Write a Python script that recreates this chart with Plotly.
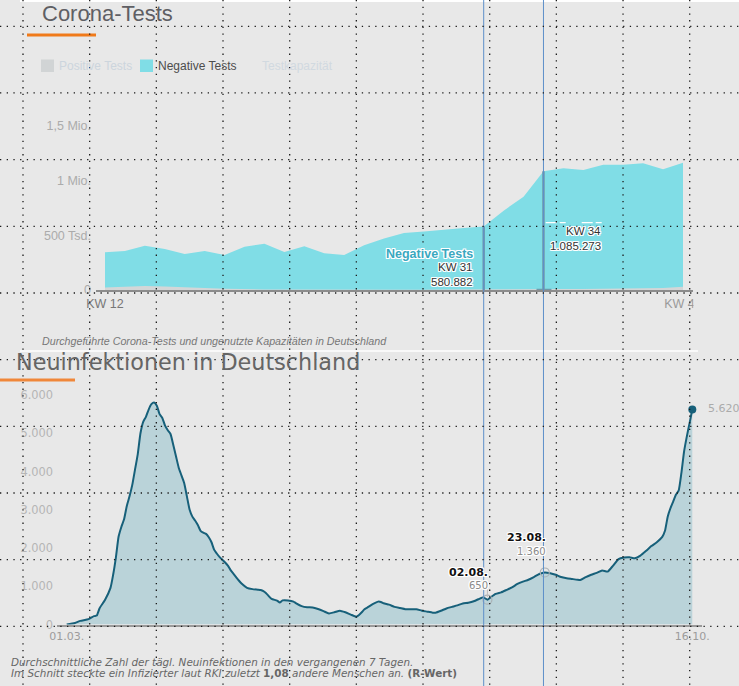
import plotly.graph_objects as go
import pandas as pd

# ---------------- data: top chart (weekly tests) ----------------
kw = list(range(12, 42))
negative_tests = [345000, 356000, 405000, 375000, 329000, 356000, 320000, 396000,
                  423000, 347000, 399000, 335000, 320000, 410000, 470000, 520000,
                  535000, 553000, 566000, 580882, 725000, 853000, 1085273, 1112000,
                  1097000, 1146000, 1146000, 1158000, 1103000, 1164000]
positive_tests = [23800, 32300, 36900, 31400, 22100, 17300, 12200, 7200, 5700, 4300,
                  3200, 2800, 2800, 5300, 3700, 3000, 3200, 3600, 5400, 6200, 7600,
                  8800, 9200, 8300, 8200, 9600, 11300, 14600, 18800, 29400]
top_x_ticks = [12, 41]
top_x_ticktext = ["KW 12", "KW 41"]
top_y_ticks = [0, 500000, 1000000, 1500000]
top_y_ticktext = ["0", "500 Tsd.", "1 Mio.", "1,5 Mio."]
highlight_kw = [31, 34]

# ---------------- data: bottom chart (7-day average new infections) ----------------
start_date = "2020-03-01"
day_offset = [0, 3, 5, 8, 10, 11, 12, 14, 16, 17, 18, 19, 20, 21, 22, 23, 24, 25, 26, 27,
              28, 29, 30, 31, 32, 33, 34, 35, 36, 37, 38, 39, 40, 41, 42, 43, 44, 45, 46,
              47, 48, 49, 50, 51, 52, 53, 54, 55, 56, 57, 58, 59, 60, 61, 62, 63, 64, 66,
              68, 70, 71, 72, 73, 74, 75, 77, 78, 79, 81, 83, 84, 86, 88, 90, 92, 94, 96,
              98, 100, 102, 104, 106, 107, 108, 109, 110, 112, 114, 115, 116, 118, 120,
              122, 124, 126, 128, 130, 132, 134, 135, 137, 139, 141, 143, 145, 147, 149,
              151, 152, 153, 154, 155, 157, 159, 161, 163, 165, 167, 169, 171, 173, 175,
              177, 179, 181, 183, 185, 187, 188, 190, 192, 194, 196, 198, 200, 202, 204,
              206, 208, 210, 212, 214, 216, 218, 219, 220, 221, 222, 223, 224, 225, 226,
              227, 228, 229]
new_infections = [0, 40, 95, 140, 220, 235, 420, 640, 950, 1300, 1750, 2300, 2550, 2750,
                  3100, 3350, 3650, 4050, 4450, 5000, 5300, 5430, 5620, 5760, 5806, 5720,
                  5500, 5400, 5200, 5080, 4980, 4700, 4400, 4100, 3900, 3700, 3350, 3000,
                  2820, 2720, 2600, 2450, 2400, 2370, 2280, 2150, 1950, 1850, 1760, 1690,
                  1620, 1540, 1420, 1330, 1240, 1150, 1070, 960, 925, 910, 900, 870, 816,
                  740, 670, 625, 575, 630, 630, 600, 554, 480, 450, 445, 405, 350, 290,
                  320, 362, 320, 260, 205, 250, 320, 400, 440, 530, 598, 590, 554, 520,
                  460, 430, 400, 397, 400, 362, 336, 310, 310, 360, 420, 460, 500, 550,
                  570, 606, 670, 702, 690, 650, 700, 800, 840, 903, 970, 1060, 1120, 1170,
                  1240, 1320, 1360, 1340, 1300, 1240, 1210, 1190, 1170, 1165, 1240, 1300,
                  1350, 1410, 1383, 1540, 1710, 1750, 1758, 1731, 1800, 1920, 2050, 2150,
                  2290, 2450, 2820, 3040, 3215, 3390, 3500, 3957, 4525, 4917, 5266, 5620]
bottom_x_ticktext = ["01.03.", "16.10."]
bottom_y_ticks = [0, 1000, 2000, 3000, 4000, 5000, 6000]
bottom_y_ticktext = ["0", "1.000", "2.000", "3.000", "4.000", "5.000", "6.000"]
highlight_dates = ["2020-08-02", "2020-08-23"]

# ---------------- helpers ----------------
W, H = 739, 686
BG = "#e8e8e8"
SANS = "Liberation Sans"
WIDE = "DejaVu Sans"
HALO = ("1px 0px 0px #fff, -1px 0px 0px #fff, 0px 1px 0px #fff, 0px -1px 0px #fff, "
        "1px 1px 0px #fff, -1px -1px 0px #fff, 1px -1px 0px #fff, -1px 1px 0px #fff")


def px(x):
    return x / W


def py(y):
    return 1 - y / H


def de(v):
    return f"{v:,}".replace(",", ".")


t0 = pd.Timestamp(start_date)
dates = [t0 + pd.Timedelta(days=d) for d in day_offset]
date_of = dict(zip([d.strftime("%Y-%m-%d") for d in dates], new_infections))
hl_dates = [pd.Timestamp(d) for d in highlight_dates]
hl_vals = [date_of[d] for d in highlight_dates]
neg_of = dict(zip(kw, negative_tests))

fig = go.Figure()

# top chart traces
fig.add_trace(go.Scatter(x=kw, y=negative_tests, mode="lines", fill="tozeroy",
                         fillcolor="#80dde6", line=dict(width=0, color="#80dde6"),
                         name="Negative Tests", xaxis="x", yaxis="y", hoverinfo="skip"))
fig.add_trace(go.Scatter(x=kw, y=positive_tests, mode="lines", fill="tozeroy",
                         fillcolor="#d3d6d7", line=dict(width=0, color="#d3d6d7"),
                         name="Positive Tests", xaxis="x", yaxis="y", hoverinfo="skip"))

# bottom chart traces
fig.add_trace(go.Scatter(x=dates, y=new_infections, mode="lines", fill="tozeroy",
                         fillcolor="#bad3d9",
                         line=dict(color="#17607a", width=2, shape="spline", smoothing=0.5),
                         name="Neuinfektionen", xaxis="x2", yaxis="y2", hoverinfo="skip"))
fig.add_trace(go.Scatter(x=hl_dates, y=hl_vals, mode="markers",
                         marker=dict(symbol="circle-open", size=9, color="#aab1b5",
                                     line=dict(width=1.2)),
                         xaxis="x2", yaxis="y2", hoverinfo="skip"))
fig.add_trace(go.Scatter(x=[dates[-1]], y=[new_infections[-1]], mode="markers",
                         marker=dict(size=8, color="#17607a"),
                         xaxis="x2", yaxis="y2", hoverinfo="skip"))

# ---------------- axes ----------------
x_left, x_right = 96, 693
kw_px = (683 - 105) / (41 - 12)
top_range_x = [12 - (105 - x_left) / kw_px, 41 + (x_right - 683) / kw_px]
top_base, top_top = 290, 120
top_range_y = [0, (top_base - top_top) / 109.4 * 1e6]

b_left, b_right = 57, 702
day_px = (692.3 - 66.7) / 229
bot_range_x = [(t0 - pd.Timedelta(days=(66.7 - b_left) / day_px)).strftime("%Y-%m-%d %H:%M:%S"),
               (t0 + pd.Timedelta(days=(b_right - 66.7) / day_px)).strftime("%Y-%m-%d %H:%M:%S")]
bot_base, bot_top = 624.5, 390
bot_range_y = [0, (bot_base - bot_top) / 38.25 * 1000]

fig.update_layout(
    width=W, height=H, autosize=False,
    margin=dict(l=0, r=0, t=0, b=0, pad=0, autoexpand=False),
    paper_bgcolor=BG, plot_bgcolor=BG, showlegend=False, hovermode=False,
    xaxis=dict(domain=[px(x_left), px(x_right)], range=top_range_x, anchor="y",
               tickvals=top_x_ticks, automargin=False,
               ticktext=[f"<span style='color:#777'>{top_x_ticktext[0]}</span>",
                         f"<span style='color:#9a9a9a'>{top_x_ticktext[1]}</span>"],
               tickfont=dict(family=SANS, size=12.5, color="#777"),
               showgrid=False, zeroline=False, showline=True, linecolor="#8c8c8c",
               linewidth=1.5, ticks="", ticklabelstandoff=1),
    yaxis=dict(domain=[py(top_base), py(top_top)], range=top_range_y, anchor="x",
               tickvals=top_y_ticks, ticktext=top_y_ticktext, automargin=False,
               tickfont=dict(family=SANS, size=12.5, color="#ababab"),
               showgrid=False, zeroline=False, showline=False, ticks="",
               ticklabelstandoff=4),
    xaxis2=dict(type="date", domain=[px(b_left), px(b_right)], range=bot_range_x,
                anchor="y2", tickvals=[dates[0], dates[-1]], ticktext=bottom_x_ticktext,
                automargin=False,
                tickfont=dict(family=WIDE, size=11, color="#9c9c9c"),
                showgrid=False, zeroline=False, showline=True, linecolor="#9a9a9a",
                linewidth=1.5, ticks="", ticklabelstandoff=1),
    yaxis2=dict(domain=[py(bot_base), py(bot_top)], range=bot_range_y, anchor="x2",
                tickvals=bottom_y_ticks, ticktext=bottom_y_ticktext, automargin=False,
                tickfont=dict(family=WIDE, size=11.4, color="#b5b5b5"),
                showgrid=False, zeroline=False, showline=False, ticks="",
                ticklabelstandoff=3),
)

# ---------------- shapes ----------------
shapes = []


def pline(x0, y0, x1, y1, color, width, dash="solid", layer="above"):
    shapes.append(dict(type="line", xref="paper", yref="paper", x0=px(x0), y0=py(y0),
                       x1=px(x1), y1=py(y1), line=dict(color=color, width=width, dash=dash),
                       layer=layer))


def prect(x0, y0, x1, y1, color, layer="above"):
    shapes.append(dict(type="rect", xref="paper", yref="paper", x0=px(x0), y0=py(y0),
                       x1=px(x1), y1=py(y1), fillcolor=color, line=dict(width=0),
                       layer=layer))


prect(20, 0, W, 2, "#ffffff", layer="below")
pline(27, 35, 96, 35, "#f07a1a", 3)
prect(41, 59.5, 54, 72, "#d1d4d5")
prect(140, 59.5, 153, 72, "#80dde6")
pline(20, 351, 698, 351, "#ffffff", 1.5)
pline(0, 380, 75, 380, "#f0873a", 3)

# darker markers at highlighted weeks inside the top area
for k in highlight_kw:
    shapes.append(dict(type="line", xref="x", yref="y", x0=k, x1=k, y0=0, y1=neg_of[k],
                       line=dict(color="#6f9aab", width=2.5), layer="above"))
shapes.append(dict(type="line", xref="x", yref="y", x0=33.65, x1=34.4, y0=0, y1=0,
                   line=dict(color="#6f9aab", width=2.5), layer="above"))
pline(545.7, 222.7, 601.7, 222.7, "#ffffff", 1.2, dash="11px,3px,6px,16px")

# small connector from the 650 label to its point
shapes.append(dict(type="line", xref="x2", yref="y2", x0=hl_dates[0], x1=hl_dates[0],
                   y0=hl_vals[0] + 70, y1=hl_vals[0] + 280,
                   line=dict(color="#bdbdbd", width=1), layer="above"))

# crosshair lines
for k in highlight_kw:
    shapes.append(dict(type="line", xref="x", yref="paper", x0=k, x1=k, y0=0, y1=1,
                       line=dict(color="#5e8fc9", width=1), layer="above"))

# clip the last top tick label at the container edge
prect(693.5, 294.5, W, 312, BG)

# dotted overlay grid
for i in range(10):
    y = 26.3 + 66.67 * i
    pline(0, y, W, y, "#1a1a1a", 1.3, dash="1.3px,5.4px")
for i in range(11):
    x = 23 + 66.67 * i
    pline(x, 0, x, H, "#1a1a1a", 1.3, dash="1.3px,5.4px")

fig.update_layout(shapes=shapes)

# ---------------- annotations ----------------
anns = []


def ptext(text, x, y, size, color, family=SANS, xanchor="left", shadow=None):
    f = dict(family=family, size=size, color=color)
    if shadow:
        f["shadow"] = shadow
    anns.append(dict(text=text, xref="paper", yref="paper", x=px(x), y=py(y),
                     xanchor=xanchor, yanchor="middle", showarrow=False, font=f))


def dtext(text, xref, yref, x, y, xshift, yshift, size, color, family=SANS, bold=False):
    anns.append(dict(text=f"<b>{text}</b>" if bold else text, xref=xref, yref=yref,
                     x=x, y=y, xshift=xshift, yshift=yshift, xanchor="right",
                     yanchor="middle", showarrow=False,
                     font=dict(family=family, size=size, color=color, shadow=HALO)))


ptext("Corona-Tests", 40, 13.5, 22, "#5f5f64")
ptext("Positive Tests", 56.5, 66, 12, "#ccd5dd")
ptext("Negative Tests", 155.5, 66, 12, "#4d4d4d")
ptext("Testkapazität", 260, 66, 12, "#d1d9e0")
ptext("<i>Durchgeführte Corona-Tests und ungenutzte Kapazitäten in Deutschland</i>",
      39.5, 340.5, 10.7, "#777777")
ptext("Neuinfektionen in Deutschland", 14, 362, 22.3, "#656565", family=WIDE)
ptext("<i>Durchschnittliche Zahl der tägl. Neuinfektionen in den vergangenen 7 Tagen.</i>",
      9, 661.5, 10.4, "#666666", family=WIDE)
ptext("<i>Im Schnitt steckte ein Infizierter laut RKI zuletzt </i><b>1,08</b>"
      "<i> andere Menschen an. </i><b>(R-Wert)</b>", 9, 672.5, 10.4, "#666666",
      family=WIDE)

# top chart value labels
k1, k2 = highlight_kw
dtext("Negative Tests", "x", "y", k1, neg_of[k1], -8.5, -27.5, 12.5, "#3aa8bf", bold=True)
dtext(f"KW {k1}", "x", "y", k1, neg_of[k1], -8.5, -41, 11.5, "#333333")
dtext(de(neg_of[k1]), "x", "y", k1, neg_of[k1], -8.5, -56, 11.5, "#333333")
dtext(f"KW {k2}", "x", "y", k2, neg_of[k2], 59.5, -59.5, 11.5, "#333333")
dtext(de(neg_of[k2]), "x", "y", k2, neg_of[k2], 59.5, -74.5, 11.5, "#333333")

# bottom chart value labels
for d, v, ds, vs in zip(hl_dates, hl_vals, [27, 35], [14.5, 20.5]):
    dtext(d.strftime("%d.%m."), "x2", "y2", d, v, 3, ds, 11, "#111111", family=WIDE, bold=True)
    dtext(de(v), "x2", "y2", d, v, 3, vs, 10, "#8a8a8a", family=WIDE)

anns.append(dict(text=de(new_infections[-1]), xref="x2", yref="y2", x=dates[-1],
                 y=new_infections[-1], xshift=14, yshift=1, xanchor="left",
                 yanchor="middle", showarrow=False,
                 font=dict(family=WIDE, size=11, color="#ababab")))

fig.update_layout(annotations=anns)
fig.write_html("out.html", config={"displayModeBar": False, "responsive": False},
               post_script="document.body.style.margin='0px';"
                           "document.body.style.overflow='hidden';")
